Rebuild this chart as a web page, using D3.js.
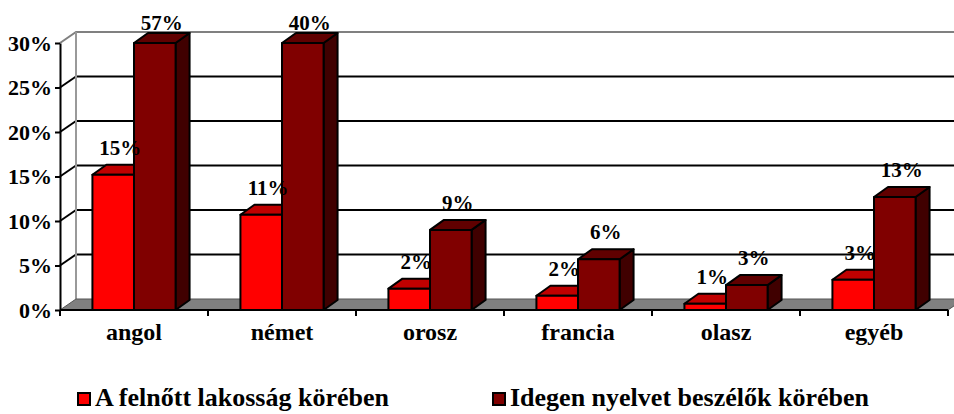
<!DOCTYPE html>
<html>

<head>
  <meta charset="utf-8">
  <style>

    body {
      margin: 0;
      background: #fff;
      font-family: "Liberation Serif", "Times New Roman", serif;
    }

    svg text {
      font-family: "Liberation Serif", "Times New Roman", serif;
      font-weight: bold;
      fill: #000;
    }

    .axisVertical path, .axisVertical line {
      fill: none;
      stroke: #000;
      stroke-width: 2;
    }

    .axisVertical text {
      font-size: 22px;
    }

    .catLabel {
      font-size: 24px;
    }

    .valLabel {
      font-size: 21px;
    }

    .legend text {
      font-size: 26px;
    }

  </style>
</head>

<body>

  <svg width="954" height="414"></svg>
  <script src="https://d3js.org/d3.v7.min.js"></script>
  <script>

  // data
  var categories = ["angol", "német", "orosz", "francia", "olasz", "egyéb"];
  var seriesNames = ["A felnőtt lakosság körében", "Idegen nyelvet beszélők körében"];
  var adultValues = [0.152, 0.107, 0.024, 0.016, 0.007, 0.034];
  var speakerValues = [0.57, 0.40, 0.090, 0.057, 0.028, 0.127];
  var yTicks = [0, 0.05, 0.10, 0.15, 0.20, 0.25, 0.30];

  var colors = {
    front: ["#ff0000", "#800000"],
    top: ["#c00000", "#600000"],
    side: ["#a00000", "#400000"]
  };

  var svg = d3.select("svg");

  var plotLeft = 60, plotRight = 948, plotBottom = 310, plotTop = 43;
  var wallDx = 16, wallDy = -11;   // depth of the walls
  var barDx = 14, barDy = -10;     // depth of the bars

  var x = d3.scaleBand()
    .domain(categories)
    .range([plotLeft, plotRight])
    .padding(0);

  var x1 = d3.scaleBand()
    .domain(d3.range(seriesNames.length))
    .range([0, x.bandwidth()])
    .paddingInner(0)
    .paddingOuter(0.78);

  var y = d3.scaleLinear()
    .domain([0, 0.30])
    .range([plotBottom, plotTop])
    .clamp(true);

  var data = categories.map(function(c, i) {
    return {cat: c, values: [adultValues[i], speakerValues[i]]};
  });

  var fmt = d3.format(".0%");

  // back wall
  svg.append("rect")
    .attr("x", plotLeft + wallDx)
    .attr("y", plotTop + wallDy)
    .attr("width", plotRight - plotLeft)
    .attr("height", plotBottom - plotTop)
    .attr("fill", "#fff");

  // grid lines on back wall + left wall
  var grid = svg.append("g");
  grid.selectAll(".back")
    .data(yTicks.slice(1, -1))
    .enter().append("line")
    .attr("x1", plotLeft + wallDx)
    .attr("x2", plotRight + wallDx)
    .attr("y1", function(d) { return y(d) + wallDy; })
    .attr("y2", function(d) { return y(d) + wallDy; })
    .attr("stroke", "#000")
    .attr("stroke-width", 2);

  grid.selectAll(".side")
    .data(yTicks.slice(1, -1))
    .enter().append("line")
    .attr("x1", plotLeft)
    .attr("x2", plotLeft + wallDx)
    .attr("y1", function(d) { return y(d); })
    .attr("y2", function(d) { return y(d) + wallDy; })
    .attr("stroke", "#000")
    .attr("stroke-width", 2);

  // top and back edges of the walls (grey)
  svg.append("path")
    .attr("d", "M" + plotLeft + "," + y(0.30) +
      "L" + (plotLeft + wallDx) + "," + (y(0.30) + wallDy) +
      "L" + (plotRight + wallDx) + "," + (y(0.30) + wallDy))
    .attr("fill", "none")
    .attr("stroke", "#808080")
    .attr("stroke-width", 2);

  svg.append("line")
    .attr("x1", plotLeft + wallDx)
    .attr("x2", plotLeft + wallDx)
    .attr("y1", y(0.30) + wallDy)
    .attr("y2", y(0) + wallDy)
    .attr("stroke", "#999")
    .attr("stroke-width", 2);

  // floor
  svg.append("path")
    .attr("d", "M" + plotLeft + "," + y(0) +
      "L" + plotRight + "," + y(0) +
      "L" + (plotRight + wallDx) + "," + (y(0) + wallDy) +
      "L" + (plotLeft + wallDx) + "," + (y(0) + wallDy) + "Z")
    .attr("fill", "#808080")
    .attr("stroke", "#555")
    .attr("stroke-width", 1);

  // bars
  var group = svg.append("g")
    .selectAll("g")
    .data(data)
    .enter().append("g")
    .attr("transform", function(d) { return "translate(" + x(d.cat) + ",0)"; });

  var bar = group.selectAll("g")
    .data(function(d) { return d.values.map(function(v, i) { return {v: v, i: i}; }); })
    .enter().append("g")
    .attr("stroke", "#000")
    .attr("stroke-width", 2)
    .attr("stroke-linejoin", "round");

  function box(d) {
    var x0 = x1(d.i), x2 = x1(d.i) + x1.bandwidth();
    return {x0: x0, x2: x2, yt: y(d.v), yb: y(0)};
  }

  // side face
  bar.append("path")
    .attr("fill", function(d) { return colors.side[d.i]; })
    .attr("d", function(d) {
      var b = box(d);
      return "M" + b.x2 + "," + b.yb + "L" + (b.x2 + barDx) + "," + (b.yb + barDy) +
        "L" + (b.x2 + barDx) + "," + (b.yt + barDy) + "L" + b.x2 + "," + b.yt + "Z";
    });

  // top face
  bar.append("path")
    .attr("fill", function(d) { return colors.top[d.i]; })
    .attr("d", function(d) {
      var b = box(d);
      return "M" + b.x0 + "," + b.yt + "L" + (b.x0 + barDx) + "," + (b.yt + barDy) +
        "L" + (b.x2 + barDx) + "," + (b.yt + barDy) + "L" + b.x2 + "," + b.yt + "Z";
    });

  // front face
  bar.append("rect")
    .attr("fill", function(d) { return colors.front[d.i]; })
    .attr("x", function(d) { return x1(d.i); })
    .attr("y", function(d) { return y(d.v); })
    .attr("width", x1.bandwidth())
    .attr("height", function(d) { return y(0) - y(d.v); });

  // value labels
  group.selectAll(".valLabel")
    .data(function(d) { return d.values.map(function(v, i) { return {v: v, i: i}; }); })
    .enter().append("text")
    .attr("class", "valLabel")
    .attr("text-anchor", "middle")
    .attr("x", function(d) { return x1(d.i) + x1.bandwidth() / 2 + barDx / 2; })
    .attr("y", function(d) { return Math.max(y(d.v) + barDy - 10, 30); })
    .text(function(d) { return fmt(d.v); });

  // y axis
  svg.append("g")
    .attr("class", "axisVertical")
    .attr("transform", "translate(" + plotLeft + ",0)")
    .call(d3.axisLeft(y).tickValues(yTicks).tickFormat(fmt).tickSize(5).tickSizeOuter(0).tickPadding(3));

  // x axis line, boundary ticks and labels
  var xAxis = svg.append("g");
  xAxis.append("line")
    .attr("x1", plotLeft)
    .attr("x2", plotRight)
    .attr("y1", y(0))
    .attr("y2", y(0))
    .attr("stroke", "#000")
    .attr("stroke-width", 2);

  xAxis.selectAll(".tick")
    .data(categories.map(function(c) { return x(c); }).concat([plotRight]))
    .enter().append("line")
    .attr("x1", function(d) { return d; })
    .attr("x2", function(d) { return d; })
    .attr("y1", y(0))
    .attr("y2", y(0) + 6)
    .attr("stroke", "#000")
    .attr("stroke-width", 2);

  xAxis.selectAll(".catLabel")
    .data(categories)
    .enter().append("text")
    .attr("class", "catLabel")
    .attr("text-anchor", "middle")
    .attr("x", function(d) { return x(d) + x.bandwidth() / 2; })
    .attr("y", y(0) + 30)
    .text(function(d) { return d; });

  // legend
  var legend = svg.append("g")
    .attr("class", "legend")
    .selectAll("g")
    .data(seriesNames)
    .enter().append("g")
    .attr("transform", function(d, i) { return "translate(" + (78 + i * 415) + ",393)"; });

  legend.append("rect")
    .attr("width", 12)
    .attr("height", 12)
    .attr("fill", function(d, i) { return colors.front[i]; })
    .attr("stroke", "#000")
    .attr("stroke-width", 2);

  legend.append("text")
    .attr("x", 17)
    .attr("y", 13)
    .text(function(d) { return d; });

</script>
</body>
</html>
